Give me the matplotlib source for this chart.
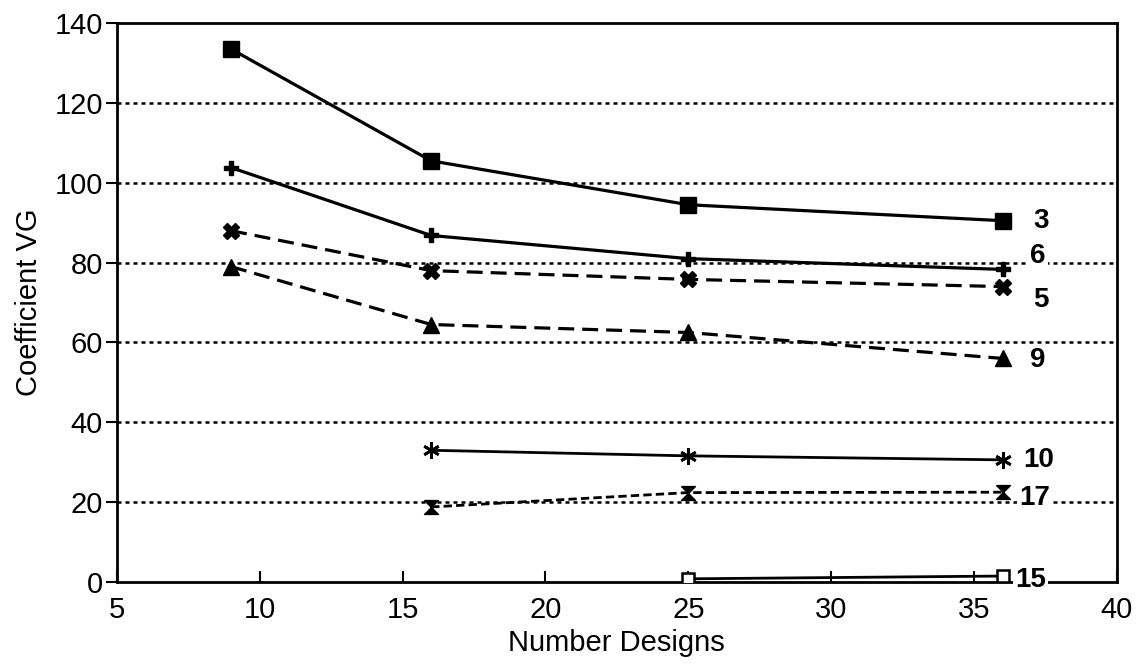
import matplotlib
matplotlib.use("Agg")
import matplotlib.pyplot as plt

plt.rcParams['font.family'] = ['Liberation Sans', 'DejaVu Sans']

# =========================
# DATA
# =========================

x_all = [9, 16, 25, 36]
x_late = [16, 25, 36]
x_last = [25, 36]

vg_3 = [133.5, 105.5, 94.5, 90.5]
vg_6 = [103.8, 86.8, 81.0, 78.3]
vg_5 = [88.0, 78.0, 75.8, 74.0]
vg_9 = [79.0, 64.5, 62.5, 56.0]
vg_10 = [33.0, 31.6, 30.6]
vg_17 = [18.8, 22.4, 22.5]
vg_15 = [0.8, 1.5]

series_names = ['3', '6', '5', '9', '10', '17', '15']

yticks = [0, 20, 40, 60, 80, 100, 120, 140]
xticks = [5, 10, 15, 20, 25, 30, 35, 40]

# =========================
# PLOT
# =========================

fig = plt.figure(figsize=(11.45, 6.67), dpi=100)
ax = fig.add_axes([0.102, 0.1274, 0.8735, 0.838])

# dotted grid lines
for yv in yticks[1:-1]:
    ax.axhline(yv, color='black', lw=1.8, linestyle=(0, (1.6, 1.6)), zorder=1)

hourglass = [(-1, 1), (1, 1), (-1, -1), (1, -1), (-1, 1)]
dash = (0, (5, 2.5))

ax.plot(x_all, vg_3, color='black', lw=2.3, marker='s', ms=11, zorder=3)
ax.plot(x_all, vg_6, color='black', lw=2.3, marker='P', ms=10, zorder=3)
ax.plot(x_all, vg_5, color='black', lw=2.3, linestyle=dash, marker='X', ms=12, zorder=3)
ax.plot(x_all, vg_9, color='black', lw=2.3, linestyle=dash, marker='^', ms=12, zorder=3)
ax.plot(x_late, vg_10, color='black', lw=2.0, marker=(6, 2, 0), ms=12, mew=2, zorder=3)
ax.plot(x_late, vg_17, color='black', lw=2.0, linestyle=(0, (3, 1.5)), marker=hourglass, ms=10, zorder=3)
ax.plot(x_last, vg_15, color='black', lw=2.0, marker='s', ms=9, mfc='white', mew=1.8, zorder=3)

# series labels at the right end
last_vals = [vg_3[-1], vg_6[-1], vg_5[-1], vg_9[-1], vg_10[-1], vg_17[-1], vg_15[-1]]
label_dy = [0, 10, -10, -1, 0, -4, -3]
label_dx = [22, 20, 22, 20, 15, 12, 9]
for name, yv, dy, dx in zip(series_names, last_vals, label_dy, label_dx):
    ax.annotate(name, (36, yv), xytext=(dx, dy), textcoords='offset points',
                fontsize=20, fontweight='bold', va='center', ha='left', zorder=4,
                annotation_clip=False,
                bbox=dict(facecolor='white', edgecolor='none', pad=1.5))

ax.set_xlim(5, 40)
ax.set_ylim(0, 140)
ax.set_xticks(xticks)
ax.set_yticks(yticks)
ax.tick_params(axis='x', direction='in', length=8, width=1.5, labelsize=21, pad=10)
ax.tick_params(axis='y', direction='out', length=8, width=1.5, labelsize=21, pad=2)

for side in ['left', 'right', 'top', 'bottom']:
    ax.spines[side].set_linewidth(2.0)

ax.set_xlabel('Number Designs', fontsize=21, labelpad=4)
ax.set_ylabel('Coefficient VG', fontsize=21, labelpad=8)

plt.savefig('out.png', dpi=100)
